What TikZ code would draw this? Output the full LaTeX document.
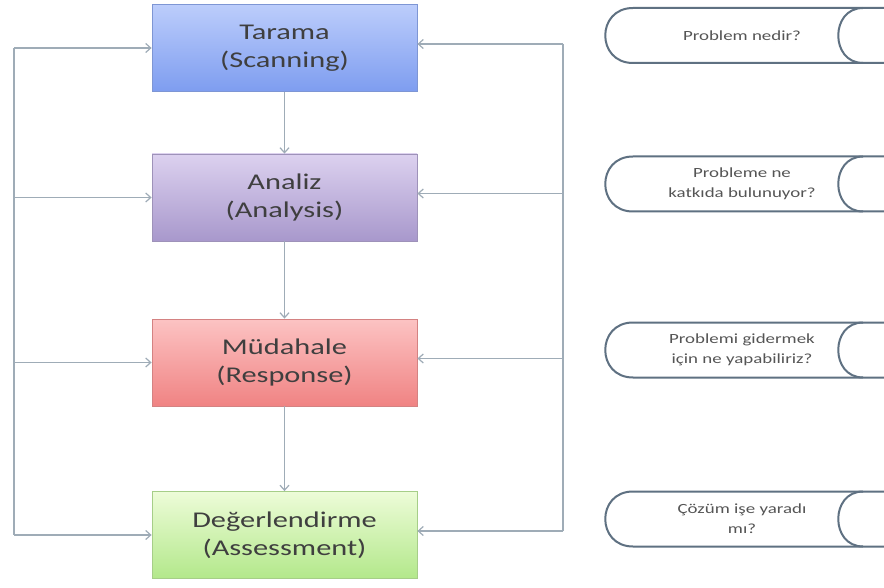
\documentclass[tikz,border=0pt]{standalone}
\usepackage{fontspec}
\setmainfont{Carlito}[FakeStretch=1.35]
\usetikzlibrary{arrows.meta}

\definecolor{bluetop}{HTML}{BCCDFB}
\definecolor{bluebot}{HTML}{7E9DF0}
\definecolor{purpletop}{HTML}{DCD1EF}
\definecolor{purplebot}{HTML}{A898CC}
\definecolor{redtop}{HTML}{FCC3C3}
\definecolor{redbot}{HTML}{F08383}
\definecolor{greentop}{HTML}{EDFCD8}
\definecolor{greenbot}{HTML}{B3E88B}
\definecolor{txtgray}{HTML}{3F3F3F}
\definecolor{qgray}{HTML}{555555}
\definecolor{linegray}{HTML}{9FACB7}
\definecolor{scrollblue}{HTML}{5F7182}

\begin{document}
\begin{tikzpicture}[x=1pt,y=-1pt,
  stage/.style 2 args={rectangle, draw=#2!75!gray, line width=0.8pt,
    top color=#1, bottom color=#2, minimum width=265pt, minimum height=87pt,
    align=center, text=txtgray, font=\fontsize{22.5}{28}\selectfont},
  flow/.style={draw=linegray, line width=1.2pt,
    -{Straight Barb[length=5pt,width=9pt]}},
  loopline/.style={draw=linegray, line width=1.2pt},
  question/.style={text=qgray, align=center, font=\fontsize{14}{20}\selectfont},
  scrollline/.style={draw=scrollblue, line width=2pt}]
  % Sizes
  \pgfmathsetmacro{\boxx}{284.5}
  \pgfmathsetmacro{\leftx}{14}
  \pgfmathsetmacro{\rightx}{563}
  \pgfmathsetmacro{\halfh}{27.5}
  \fill[white] (0,0) rectangle (884,588);
  \useasboundingbox (0,0) rectangle (884,588);

  % stages
  \node[stage={bluetop}{bluebot}] (scan) at (\boxx,48) {Tarama\\(Scanning)};
  \node[stage={purpletop}{purplebot}] (anal) at (\boxx,197.5) {Analiz\\(Analysis)};
  \node[stage={redtop}{redbot}] (resp) at (\boxx,362.5) {Müdahale\\(Response)};
  \node[stage={greentop}{greenbot}] (assess) at (\boxx,535) {Değerlendirme\\(Assessment)};

  % loop lines
  \coordinate (lx) at (\leftx,0);
  \coordinate (rx) at (\rightx,0);

  % draw diagram
  \draw[flow] (scan) -- (anal);
  \draw[flow] (anal) -- (resp);
  \draw[flow] (resp) -- (assess);

  \draw[loopline] (scan.west -| lx) -- (assess.west -| lx);
  \foreach \n in {scan,anal,resp,assess}
    \draw[flow] (\n.west -| lx) -- (\n.west);

  \foreach \n in {scan,anal,resp,assess}{
    \coordinate (\n-in) at ([yshift=4pt]\n.east);
    \draw[flow] (\n-in -| rx) -- (\n-in);
  }
  \draw[loopline] (scan-in -| rx) -- (assess-in -| rx);

  % questions
  \foreach \y/\txt [count=\i] in {35.5/{Problem nedir?},
      184/{Probleme ne\\katkıda bulunuyor?},
      350/{Problemi gidermek\\için ne yapabiliriz?},
      519/{Çözüm işe yaradı\\mı?}}{
    \draw[scrollline] (884,\y-\halfh) -- (633,\y-\halfh)
      .. controls (596,\y-\halfh) and (596,\y+\halfh) .. (633,\y+\halfh)
      -- (884,\y+\halfh);
    \draw[scrollline] (863,\y-\halfh)
      .. controls (830,\y-\halfh) and (830,\y+\halfh) .. (863,\y+\halfh);
    \node[question] (q\i) at (742,\y) {\txt};
  }
\end{tikzpicture}
\end{document}
